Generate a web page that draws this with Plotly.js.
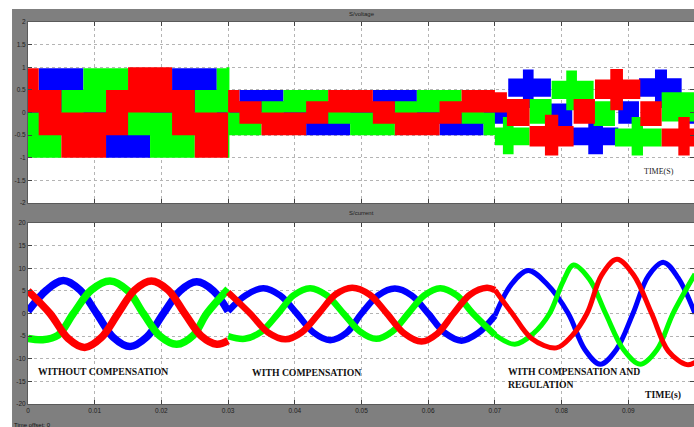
<!DOCTYPE html>
<html>
<head>
<meta charset="utf-8">
<script src="https://cdn.plot.ly/plotly-3.0.1.min.js"></script>
<style>html,body{margin:0;padding:0;background:#fff;}#chart{width:694px;height:427px;}</style>
</head>
<body>
<div id="chart"></div>
<script>
// ---------- tick labels ----------
const timeTicks = [0, 0.01, 0.02, 0.03, 0.04, 0.05, 0.06, 0.07, 0.08, 0.09, 0.1];
const timeTickText = ['0', '0.01', '0.02', '0.03', '0.04', '0.05', '0.06', '0.07', '0.08', '0.09', '0.1'];
const voltTicks = [2, 1.5, 1, 0.5, 0, -0.5, -1, -1.5, -2];
const voltTickText = ['2', '1.5', '1', '0.5', '0', '-0.5', '-1', '-1.5', '-2'];
const currTicks = [20, 15, 10, 5, 0, -5, -10, -15, -20];
const currTickText = ['20', '15', '10', '5', '0', '-5', '-10', '-15', '-20'];

// ---------- voltage: switching bands per phase [tStart, tEnd, low, high] ----------
const voltBlue = [
  [0, 0.0016, -0.5, 0.5], [0.0016, 0.0083, 0, 0.98], [0.0083, 0.0117, -0.5, 0.5], [0.0117, 0.0183, -1, 0],
  [0.0183, 0.0216, -0.5, 0.5], [0.0216, 0.0283, 0, 0.98], [0.0283, 0.03, -0.5, 0.5],
  [0.03, 0.0317, -0.25, 0.25], [0.0317, 0.0383, 0, 0.5], [0.0383, 0.0417, -0.25, 0.25], [0.0417, 0.0483, -0.5, 0],
  [0.0483, 0.0517, -0.25, 0.25], [0.0517, 0.0583, 0, 0.5], [0.0583, 0.0617, -0.25, 0.25], [0.0617, 0.0683, -0.5, 0],
  [0.0683, 0.07, -0.25, 0.25],
  [0.07, 0.072, -0.25, 0.3], [0.072, 0.0784, 0.35, 0.75], [0.0742, 0.0758, 0.1, 0.95], [0.0784, 0.0816, -0.3, 0.2],
  [0.0816, 0.0885, -0.72, -0.33], [0.084, 0.0862, -0.92, -0.05], [0.0885, 0.0916, -0.25, 0.25],
  [0.0916, 0.098, 0.35, 0.76], [0.094, 0.0958, 0.1, 0.95], [0.098, 0.1, -0.25, 0.3]
];
const voltGreen = [
  [0, 0.005, -1, 0], [0.005, 0.0083, -0.5, 0.5], [0.0083, 0.015, 0, 0.98], [0.015, 0.0183, -0.5, 0.5],
  [0.0183, 0.025, -1, 0], [0.025, 0.0283, -0.5, 0.5], [0.0283, 0.03, 0, 0.98], [0.0298, 0.0302, -1, 1],
  [0.03, 0.035, -0.5, 0], [0.035, 0.0383, -0.25, 0.25], [0.0383, 0.045, 0, 0.5], [0.045, 0.0483, -0.25, 0.25],
  [0.0483, 0.055, -0.5, 0], [0.055, 0.0583, -0.25, 0.25], [0.0583, 0.065, 0, 0.5], [0.065, 0.0683, -0.25, 0.25],
  [0.0683, 0.07, -0.5, 0],
  [0.07, 0.0752, -0.72, -0.33], [0.0712, 0.0728, -0.92, -0.1], [0.0752, 0.0785, -0.25, 0.3],
  [0.0785, 0.0848, 0.3, 0.7], [0.0807, 0.0823, 0.05, 0.93], [0.0848, 0.088, -0.3, 0.25],
  [0.088, 0.095, -0.75, -0.35], [0.0905, 0.0922, -0.95, -0.1], [0.095, 0.1, -0.2, 0.45]
];
const voltRed = [
  [0, 0.0016, 0, 0.98], [0.0016, 0.005, -0.5, 0.5], [0.005, 0.0117, -1, 0], [0.0117, 0.015, -0.5, 0.5],
  [0.015, 0.0216, 0, 1], [0.0216, 0.025, -0.5, 0.5], [0.025, 0.03, -1, 0],
  [0.03, 0.0317, 0, 0.5], [0.0317, 0.035, -0.25, 0.25], [0.035, 0.0417, -0.5, 0], [0.0417, 0.045, -0.25, 0.25],
  [0.045, 0.0517, 0, 0.5], [0.0517, 0.055, -0.25, 0.25], [0.055, 0.0617, -0.5, 0], [0.0617, 0.065, -0.25, 0.25],
  [0.065, 0.07, 0, 0.5],
  [0.07, 0.0718, 0, 0.45], [0.0718, 0.0752, -0.3, 0.3], [0.0752, 0.0818, -0.75, -0.3], [0.0775, 0.0795, -0.95, -0.05],
  [0.0818, 0.085, -0.25, 0.3], [0.085, 0.0918, 0.3, 0.73], [0.0873, 0.0892, 0.05, 0.96],
  [0.0918, 0.095, -0.3, 0.25], [0.095, 0.1, -0.75, -0.35], [0.0975, 0.0992, -0.95, -0.1]
];

// ---------- current per phase (null = step at t = 0.03) ----------
const curBlueT = [0, 0.0028, 0.0053, 0.0078, 0.0103, 0.0128, 0.0153, 0.0178, 0.0203, 0.0228, 0.0253, 0.0278, 0.03, null,
  0.03, 0.0326, 0.0353, 0.0378, 0.0403, 0.0428, 0.0453, 0.0478, 0.05, 0.0525, 0.055, 0.0575, 0.06, 0.0625, 0.065, 0.0675, 0.07,
  0.0725, 0.075, 0.0778, 0.081, 0.0835, 0.0858, 0.0882, 0.0907, 0.093, 0.0953, 0.0975, 0.1];
const curBlueY = [0.5, 5.2, 7.3, 5.2, 0, -5.3, -7.3, -5.2, 0, 5, 7, 5, 0.5, null,
  0.5, 4, 5.6, 4, 0, -4.2, -5.9, -4.2, 0, 4, 5.5, 4, 0, -4.3, -6, -4.3, -0.5,
  6.5, 9.5, 6.5, 0, -8, -11.2, -8, 0, 8.3, 11.3, 7.8, 0];
const curGreenT = [0, 0.0022, 0.0045, 0.0068, 0.0095, 0.0123, 0.015, 0.0173, 0.0198, 0.0223, 0.0248, 0.0268, 0.03, null,
  0.03, 0.0325, 0.035, 0.0375, 0.0398, 0.0423, 0.0448, 0.0473, 0.0498, 0.0522, 0.0546, 0.057, 0.0594, 0.0618, 0.0643, 0.0667, 0.07,
  0.073, 0.0757, 0.0782, 0.0802, 0.0818, 0.0842, 0.0866, 0.0893, 0.0918, 0.0943, 0.0967, 0.1];
const curGreenY = [-5.5, -5.8, -4.8, 0, 5.2, 7.2, 5, 0, -5, -6.8, -4.8, 0, 5.4, null,
  -5, -5.6, -4, 0, 4, 5.6, 4, 0, -4, -5.6, -4, 0, 4, 5.6, 4, 0, -4.7,
  -6.8, -4.5, 0, 7, 10.7, 7.5, 0, -8, -11.2, -8, 0, 8.7];
const curRedT = [0, 0.0033, 0.006, 0.0085, 0.011, 0.0135, 0.016, 0.0185, 0.021, 0.0235, 0.026, 0.0283, 0.03, null,
  0.03, 0.0333, 0.036, 0.0386, 0.041, 0.0436, 0.0461, 0.0486, 0.0512, 0.0538, 0.0564, 0.059, 0.0614, 0.0638, 0.0663, 0.0688, 0.07,
  0.0726, 0.0755, 0.0792, 0.0815, 0.0838, 0.086, 0.0883, 0.0908, 0.0935, 0.096, 0.0988, 0.1];
const curRedY = [5, 0, -5.5, -7.5, -5.3, 0, 5.2, 7.2, 5.2, 0, -5, -6.8, -6, null,
  4.7, 0, -4.2, -5.7, -4.2, 0, 4.2, 5.7, 4.2, 0, -4.4, -6.2, -4.4, 0, 4.2, 5.7, 5.2,
  0, -5.5, -7.6, -5, 0, 8.5, 12, 8.5, 0, -8.3, -11.3, -10.8];

const BLUE = '#0000ff', GREEN = '#00ff00', RED = '#ff0000';

function bandTrace(blocks, color) {
  const x = [], y = [];
  blocks.forEach(b => {
    x.push(b[0], b[1], b[1], b[0], b[0], null);
    y.push(b[2], b[2], b[3], b[3], b[2], null);
  });
  return { type: 'scatter', mode: 'lines', x: x, y: y, xaxis: 'x', yaxis: 'y',
    fill: 'toself', fillcolor: color, line: { width: 0, color: color }, hoverinfo: 'skip', showlegend: false };
}

function currentTraces(T, Y, color) {
  const k = T.indexOf(null);
  const parts = [];
  parts.push({ t: T.slice(0, k), y: Y.slice(0, k), w: 7.5 });
  const t2 = T.slice(k + 1), y2 = Y.slice(k + 1);
  const a = { t: [], y: [], w: 6.5 }, b = { t: [], y: [], w: 5 };
  t2.forEach((t, i) => {
    if (t <= 0.07) { a.t.push(t); a.y.push(y2[i]); }
    if (t >= 0.07) { b.t.push(t); b.y.push(y2[i]); }
  });
  parts.push(a, b);
  return parts.map(p => ({ type: 'scatter', mode: 'lines', x: p.t, y: p.y, xaxis: 'x2', yaxis: 'y2',
    line: { color: color, width: p.w, shape: 'spline', smoothing: 1 }, hoverinfo: 'skip', showlegend: false }));
}

const data = [
  bandTrace(voltBlue, BLUE), bandTrace(voltGreen, GREEN), bandTrace(voltRed, RED),
  ...currentTraces(curBlueT, curBlueY, BLUE),
  ...currentTraces(curGreenT, curGreenY, GREEN),
  ...currentTraces(curRedT, curRedY, RED)
];

const tickFont = { family: 'Arial, Liberation Sans, sans-serif', size: 6.5, color: '#1e1e1e' };
const xCommon = {
  range: [0, 0.09985], tickmode: 'array', tickvals: timeTicks, ticktext: timeTickText,
  ticks: 'inside', ticklen: 4, tickcolor: '#444', showline: true, linecolor: '#5a5a5a', linewidth: 1, mirror: 'ticks',
  showgrid: true, gridcolor: '#b4b4b4', griddash: 'dot', gridwidth: 1, zeroline: false, tickfont: tickFont
};
const yCommon = {
  ticks: 'inside', ticklen: 4, tickcolor: '#444', showline: true, linecolor: '#5a5a5a', linewidth: 1, mirror: 'ticks',
  showgrid: true, gridcolor: '#b4b4b4', griddash: 'dot', gridwidth: 1, zeroline: false, tickfont: tickFont, tickmode: 'array'
};

const annFont = { family: 'Liberation Serif, Times New Roman, serif', size: 9.7, color: '#111' };
const layout = {
  width: 694, height: 427,
  margin: { l: 28, r: 0, t: 22, b: 23, pad: 0 },
  paper_bgcolor: '#7f7f7f', plot_bgcolor: '#ffffff',
  showlegend: false,
  xaxis: Object.assign({}, xCommon, { anchor: 'y', showticklabels: false }),
  yaxis: Object.assign({}, yCommon, { domain: [0.526, 1], range: [-2, 2], tickvals: voltTicks, ticktext: voltTickText, anchor: 'x' }),
  xaxis2: Object.assign({}, xCommon, { anchor: 'y2', showticklabels: true }),
  yaxis2: Object.assign({}, yCommon, { domain: [0, 0.4738], range: [-20, 20], tickvals: currTicks, ticktext: currTickText, anchor: 'x2' }),
  shapes: [
    { type: 'rect', xref: 'paper', yref: 'paper', x0: -0.06, x1: 1.01, y0: 1.034, y1: 1.1, fillcolor: '#ffffff', line: { width: 0 }, layer: 'above' },
    { type: 'rect', xref: 'paper', yref: 'paper', x0: -0.06, x1: -0.024, y0: -0.1, y1: 1.1, fillcolor: '#ffffff', line: { width: 0 }, layer: 'above' }
  ],
  annotations: [
    { xref: 'paper', yref: 'paper', x: 0.479, y: 1.022, text: 'S/voltage', showarrow: false, xanchor: 'left', yanchor: 'middle',
      font: { family: 'Arial, sans-serif', size: 6, color: '#222' } },
    { xref: 'paper', yref: 'paper', x: 0.479, y: 0.5, text: 'S/current', showarrow: false, xanchor: 'left', yanchor: 'middle',
      font: { family: 'Arial, sans-serif', size: 6, color: '#222' } },
    { xref: 'paper', yref: 'paper', x: -0.024, y: -0.054, text: 'Time offset: 0', showarrow: false, xanchor: 'left', yanchor: 'middle',
      font: { family: 'Arial, sans-serif', size: 6, color: '#111' } },
    { xref: 'x', yref: 'y', x: 0.092, y: -1.31, text: 'TIME(S)', showarrow: false, xanchor: 'left', yanchor: 'middle',
      font: { family: 'Liberation Serif, serif', size: 8, color: '#222' } },
    { xref: 'x2', yref: 'y2', x: 0.0012, y: -12.9, text: '<b>WITHOUT COMPENSATION</b>', showarrow: false, xanchor: 'left', yanchor: 'middle', font: annFont },
    { xref: 'x2', yref: 'y2', x: 0.0333, y: -13.1, text: '<b>WITH COMPENSATION</b>', showarrow: false, xanchor: 'left', yanchor: 'middle', font: annFont },
    { xref: 'x2', yref: 'y2', x: 0.0717, y: -14.3, text: '<b>WITH COMPENSATION AND<br>REGULATION</b>', showarrow: false, xanchor: 'left', yanchor: 'middle', align: 'left', font: annFont },
    { xref: 'x2', yref: 'y2', x: 0.0922, y: -18, text: '<b>TIME(s)</b>', showarrow: false, xanchor: 'left', yanchor: 'middle', font: annFont }
  ]
};

Plotly.newPlot('chart', data, layout, { displayModeBar: false, staticPlot: true });
</script>
</body>
</html>
